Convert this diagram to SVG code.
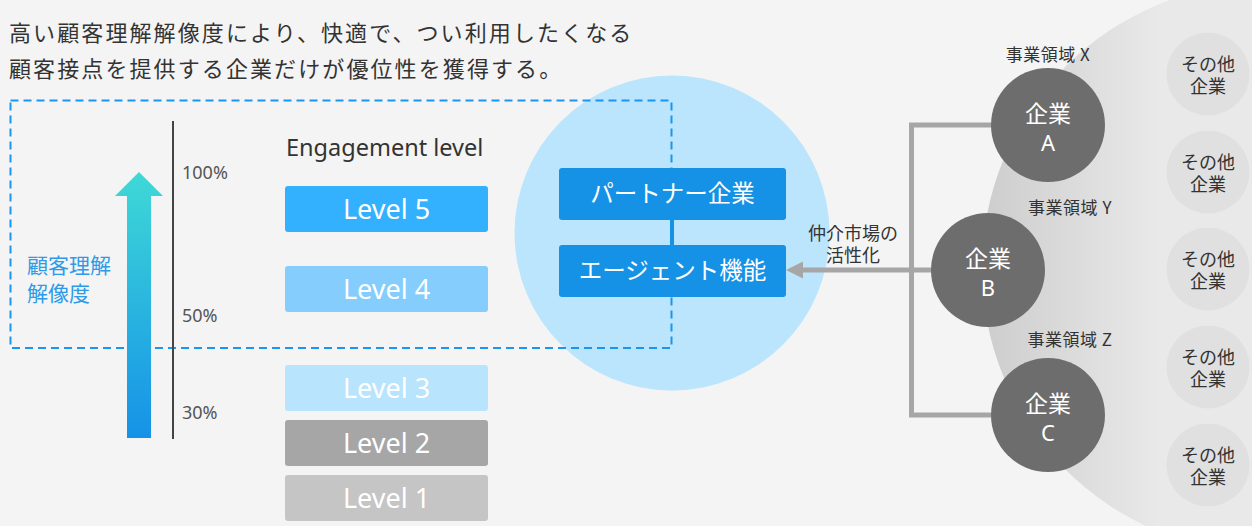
<svg xmlns="http://www.w3.org/2000/svg" width="1252" height="526" viewBox="0 0 1252 526">
<defs>
<linearGradient id="arrowGrad" x1="0" y1="0" x2="0" y2="1">
<stop offset="0" stop-color="#3fd9d6"/>
<stop offset="1" stop-color="#1592e8"/>
</linearGradient>
<linearGradient id="grayGrad" gradientUnits="userSpaceOnUse" x1="982" y1="0" x2="1160" y2="0">
<stop offset="0" stop-color="#cdcdcd"/>
<stop offset="1" stop-color="#e9e9e9"/>
</linearGradient>
<marker id="arrowHead" markerWidth="4" markerHeight="4" refX="0" refY="2" orient="auto" markerUnits="strokeWidth" overflow="visible">
<path d="M0,0.3 L3.4,2 L0,3.7 Z" fill="#a6a6a6"/>
</marker>
<style>
.jp{font-family:"Noto Sans CJK JP","Noto Sans",sans-serif}
.lat{font-family:"Noto Sans","Open Sans",sans-serif}
.lvl{font-family:"Noto Sans","Open Sans",sans-serif;font-size:27px;fill:#ffffff;text-anchor:middle}
.pct{font-family:"Noto Sans","Open Sans",sans-serif;font-size:18px;fill:#555555}
.corp{fill:#6d6d6d}
.corpT{font-family:"Noto Sans CJK JP","Noto Sans",sans-serif;font-size:23px;fill:#ffffff;text-anchor:middle}
.corpL{font-family:"Noto Sans","Open Sans",sans-serif;font-size:22px;fill:#ffffff;text-anchor:middle}
.other{fill:#e0e0e0}
.otherT{font-family:"Noto Sans CJK JP","Noto Sans",sans-serif;font-size:18px;fill:#333333;text-anchor:middle}
.area{font-family:"Noto Sans CJK JP","Noto Sans",sans-serif;font-size:17px;fill:#333333;text-anchor:middle;letter-spacing:0.5px}
.conn{fill:none;stroke:#a6a6a6;stroke-width:5}
.blueBox{fill:#1592e6}
.blueT{font-family:"Noto Sans CJK JP","Noto Sans",sans-serif;font-size:23.5px;fill:#ffffff;text-anchor:middle}
</style>
</defs>
<rect x="0" y="0" width="1252" height="526" fill="#f4f4f4"/>

<g id="title" class="jp" font-size="22" fill="#333333" letter-spacing="2.1">
<text x="9" y="41">高い顧客理解解像度により、快適で、つい利用したくなる</text>
<text x="9" y="77">顧客接点を提供する企業だけが優位性を獲得する。</text>
</g>

<g id="market-bg">
<circle cx="1267" cy="268" r="285" fill="url(#grayGrad)"/>
</g>

<g id="partner-circle">
<circle cx="672" cy="233" r="157.5" fill="#bbe5fd"/>
</g>

<g id="understanding-area">
<rect x="10.5" y="100.5" width="661" height="247.5" fill="none" stroke="#1a96f0" stroke-width="2" stroke-dasharray="8,5"/>
</g>

<g id="axis">
<path d="M127,438 L127,196 L115,196 L139,172 L163,196 L151,196 L151,438 Z" fill="url(#arrowGrad)"/>
<line x1="173" y1="121" x2="173" y2="439" stroke="#444444" stroke-width="2"/>
<text class="pct" x="182" y="179">100%</text>
<text class="pct" x="182" y="322">50%</text>
<text class="pct" x="182" y="419">30%</text>
<text class="jp" x="27" y="273" font-size="21" fill="#2d9be8">顧客理解</text>
<text class="jp" x="27" y="301" font-size="21" fill="#2d9be8">解像度</text>
</g>

<g id="levels">
<text class="lat" x="286" y="156" font-size="23.5" fill="#333333">Engagement level</text>
<g id="level5"><rect x="285" y="186" width="203" height="46" rx="3" fill="#33b0fe"/><text class="lvl" x="386.5" y="219">Level 5</text></g>
<g id="level4"><rect x="285" y="266" width="203" height="46" rx="3" fill="#85cdfd"/><text class="lvl" x="386.5" y="299">Level 4</text></g>
<g id="level3"><rect x="285" y="365" width="203" height="46" rx="3" fill="#b9e4fd"/><text class="lvl" x="386.5" y="398">Level 3</text></g>
<g id="level2"><rect x="285" y="420" width="203" height="46" rx="3" fill="#a6a6a6"/><text class="lvl" x="386.5" y="453">Level 2</text></g>
<g id="level1"><rect x="285" y="475" width="203" height="46" rx="3" fill="#c5c5c5"/><text class="lvl" x="386.5" y="508">Level 1</text></g>
</g>

<g id="connectors">
<line x1="672" y1="220" x2="672" y2="245" stroke="#1592e6" stroke-width="4"/>
<path class="conn" d="M993,125 L911.5,125 L911.5,415 L993,415"/>
<line class="conn" x1="932" y1="270" x2="911.5" y2="270"/>
<line class="conn" x1="911.5" y1="270" x2="803" y2="270" marker-end="url(#arrowHead)"/>
</g>

<g id="partner">
<rect class="blueBox" x="559" y="168" width="227" height="52" rx="3"/>
<text class="blueT" x="672.5" y="202">パートナー企業</text>
</g>
<g id="agent">
<rect class="blueBox" x="559" y="245" width="227" height="52" rx="3"/>
<text class="blueT" x="672.5" y="279">エージェント機能</text>
</g>

<g id="market-label">
<text class="otherT" x="853" y="240">仲介市場の</text>
<text class="otherT" x="853" y="262">活性化</text>
</g>

<g id="companyA">
<text class="area" x="1048" y="61">事業領域 X</text>
<circle class="corp" cx="1048" cy="125" r="57"/>
<text class="corpT" x="1048" y="122">企業</text>
<text class="corpL" x="1048" y="151">A</text>
</g>
<g id="companyB">
<text class="area" x="1070" y="214">事業領域 Y</text>
<circle class="corp" cx="988" cy="270" r="57"/>
<text class="corpT" x="988" y="267">企業</text>
<text class="corpL" x="988" y="296">B</text>
</g>
<g id="companyC">
<text class="area" x="1070" y="346">事業領域 Z</text>
<circle class="corp" cx="1048" cy="415" r="57"/>
<text class="corpT" x="1048" y="412">企業</text>
<text class="corpL" x="1048" y="441">C</text>
</g>

<g id="other1"><circle class="other" cx="1208" cy="74" r="41.5"/><text class="otherT" x="1208" y="71">その他</text><text class="otherT" x="1208" y="93">企業</text></g>
<g id="other2"><circle class="other" cx="1208" cy="172" r="41.5"/><text class="otherT" x="1208" y="169">その他</text><text class="otherT" x="1208" y="191">企業</text></g>
<g id="other3"><circle class="other" cx="1208" cy="269" r="41.5"/><text class="otherT" x="1208" y="266">その他</text><text class="otherT" x="1208" y="288">企業</text></g>
<g id="other4"><circle class="other" cx="1208" cy="367" r="41.5"/><text class="otherT" x="1208" y="364">その他</text><text class="otherT" x="1208" y="386">企業</text></g>
<g id="other5"><circle class="other" cx="1208" cy="465" r="41.5"/><text class="otherT" x="1208" y="462">その他</text><text class="otherT" x="1208" y="484">企業</text></g>
</svg>
